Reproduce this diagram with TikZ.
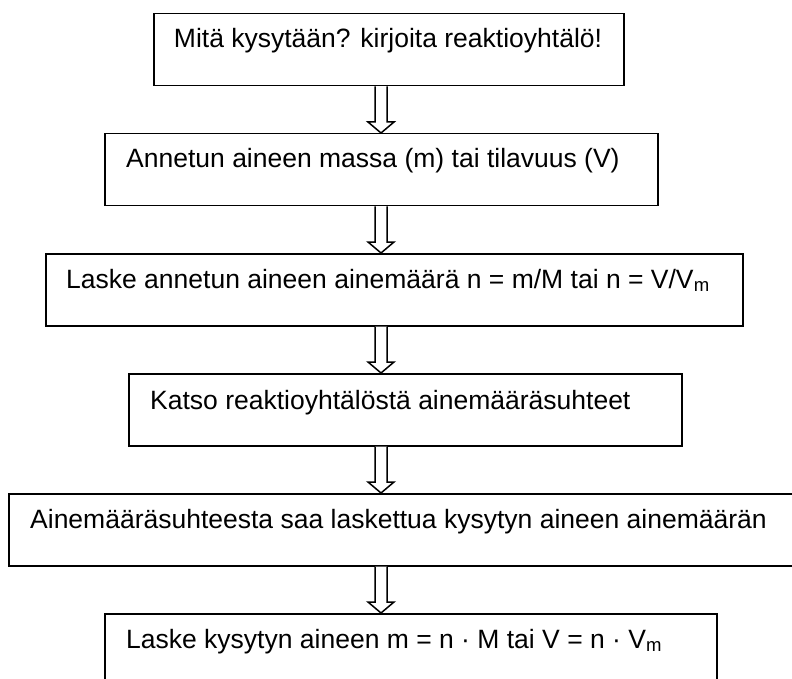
\documentclass[tikz,border=0pt]{standalone}
\usepackage{fontspec}
\setmainfont{Liberation Sans}
\usetikzlibrary{calc}
\tikzset{
  frame/.style={draw=black, line width=1.5pt, rectangle, inner sep=0pt, anchor=north west},
  label/.style={anchor=base west, inner sep=0pt, font=\fontsize{26.5}{30}\selectfont},
  hollow/.style={draw=black, line width=1.5pt, line join=miter, fill=white},
}
\newcommand\blockarrow[2]{%
  \draw[hollow] ($(#1.south -| ax)+(-6,0)$) -- ($(#2.north -| ax)+(-6,-11)$)
    -- ($(#2.north -| ax)+(-13,-11)$) -- (#2.north -| ax)
    -- ($(#2.north -| ax)+(13,-11)$) -- ($(#2.north -| ax)+(6,-11)$)
    -- ($(#1.south -| ax)+(6,0)$);}
\begin{document}
\begin{tikzpicture}[x=1pt,y=-1pt]
\useasboundingbox (0,0) rectangle (792,679);
\clip (0,0) rectangle (792,679);
\coordinate (ax) at (381,0);
\node[frame, minimum width=470pt, minimum height=72pt] (b1) at (153,13) {};
\node[frame, minimum width=553pt, minimum height=72pt] (b2) at (104,133) {};
\node[frame, minimum width=697pt, minimum height=72pt] (b3) at (45,253) {};
\node[frame, minimum width=553pt, minimum height=72pt] (b4) at (128,373) {};
\node[frame, minimum width=800pt, minimum height=72pt] (b5) at (8,493) {};
\node[frame, minimum width=612pt, minimum height=90pt] (b6) at (104,613) {};
\node[label, anchor=base] (t1) at (388,48) {Mitä kysytään? kirjoita reaktioyhtälö!};
\node[label] (t2) at (126,168) {Annetun aineen massa (m) tai tilavuus (V)};
\node[label] (t3) at (66,288) {Laske annetun aineen ainemäärä n = m/M tai n = V/V\textsubscript{m}};
\node[label] (t4) at (150,409) {Katso reaktioyhtälöstä ainemääräsuhteet};
\node[label] (t5) at (30,528) {Ainemääräsuhteesta saa laskettua kysytyn aineen ainemäärän};
\node[label] (t6) at (126,648) {Laske kysytyn aineen m = n · M tai V = n · V\textsubscript{m}};
\blockarrow{b1}{b2}
\blockarrow{b2}{b3}
\blockarrow{b3}{b4}
\blockarrow{b4}{b5}
\blockarrow{b5}{b6}
\end{tikzpicture}
\end{document}
